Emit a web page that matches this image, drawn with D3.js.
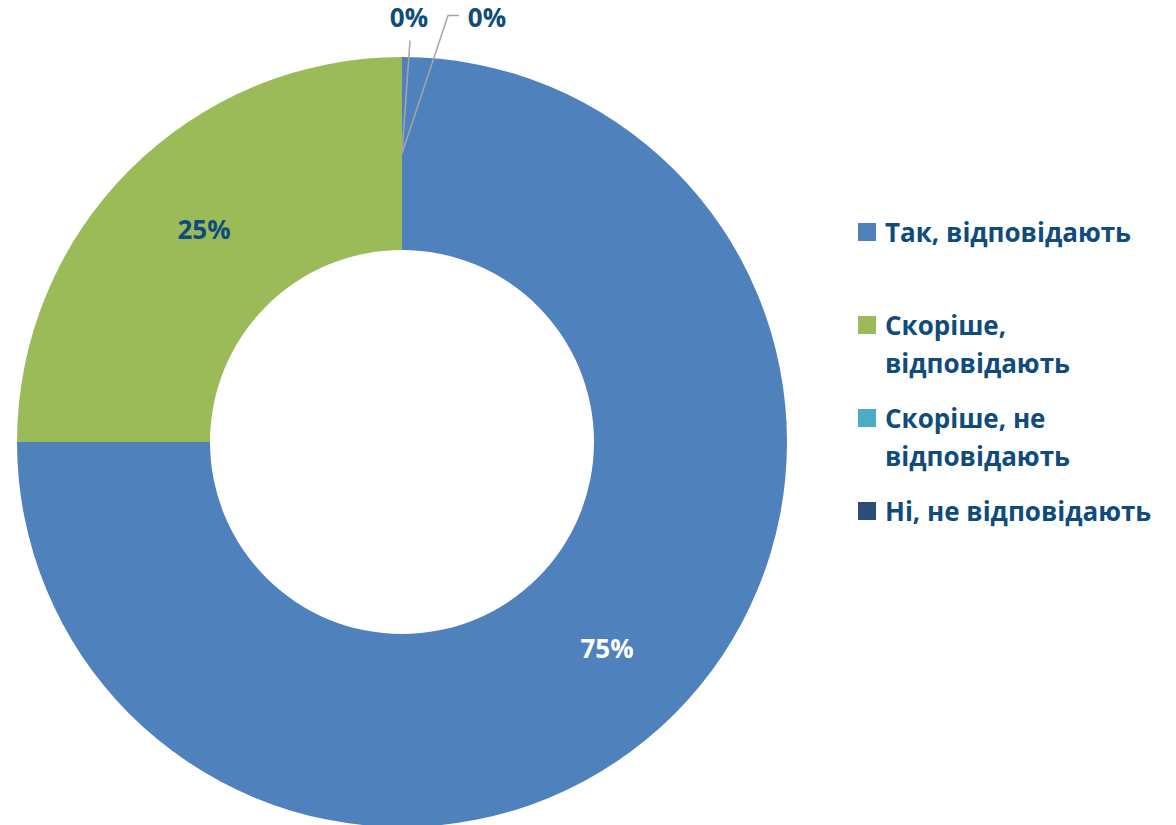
<!DOCTYPE html>
<html>
<head>
<meta charset="utf-8">
<script src="https://cdn.jsdelivr.net/npm/d3@7"></script>
<style>
  body { margin: 0; background: #fff; }
  text { font-family: "Open Sans", "Noto Sans", sans-serif; font-weight: bold; }
</style>
</head>
<body>
<svg id="chart"></svg>
<script>
const categories = ["Так, відповідають", "Скоріше, відповідають", "Скоріше, не відповідають", "Ні, не відповідають"]
const values = [75, 25, 0, 0]
const colors = ["#4F81BD", "#9BBB59", "#4BACC6", "#2C4D75"]

const width = 1176, height = 825
const cx = 402, cy = 442,
      outerR = 385, innerR = 192,
      textColor = "#0F4C7C"

const svg = d3.select("#chart")
    .attr("width", width)
    .attr("height", height)

const pie = d3.pie().sort(null).value(d => d.value)
const arcs = pie(categories.map((c, i) => ({name: c, value: values[i], color: colors[i]})))

const arc = d3.arc().innerRadius(innerR).outerRadius(outerR)
const labelArc = d3.arc().innerRadius((innerR + outerR) / 2).outerRadius((innerR + outerR) / 2)

const body = svg.append("g")
    .attr("transform", `translate(${cx},${cy})`)

body.selectAll("path")
    .data(arcs)
    .enter().append("path")
    .attr("d", arc)
    .attr("fill", d => d.data.color)

const total = d3.sum(values)
const fmt = d => Math.round(d.value / total * 100) + "%"

// labels for the visible slices sit on the ring
body.selectAll("text.inside")
    .data(arcs.filter(d => d.value > 0))
    .enter().append("text")
    .attr("class", "inside")
    .attr("x", d => labelArc.centroid(d)[0] + (d.index === 1 ? 6 : 1))
    .attr("y", d => labelArc.centroid(d)[1] + (d.index === 1 ? -9 : 2))
    .attr("text-anchor", "middle")
    .attr("dominant-baseline", "central")
    .attr("font-size", "26px")
    .attr("fill", d => d.index === 0 ? "#fff" : textColor)
    .text(fmt)

// zero slices get pulled-out labels with leader lines
const zeros = arcs.filter(d => d.value === 0)
const offsets = [{dx: 7, dy: -137, bend: null}, {dx: 85, dy: -137, bend: [46, -138]}]

zeros.forEach((d, k) => {
    const c = labelArc.centroid(d), o = offsets[k]
    const pts = k === 0
        ? [[c[0], c[1]], [c[0] + 8, c[1] - 113]]
        : [[c[0], c[1]], [c[0] + o.bend[0], c[1] + o.bend[1]], [c[0] + o.bend[0] + 11, c[1] + o.bend[1]]]
    body.append("path")
        .attr("d", d3.line()(pts))
        .attr("fill", "none")
        .attr("stroke", "#A6A6A6")
        .attr("stroke-width", 1.5)
    body.append("text")
        .attr("x", c[0] + o.dx)
        .attr("y", c[1] + o.dy)
        .attr("text-anchor", "middle")
        .attr("dominant-baseline", "central")
        .attr("font-size", "26px")
        .attr("fill", textColor)
        .text(fmt(d))
})

// legend
const legend = svg.append("g")
    .attr("transform", "translate(858,232)")

const rows = legend.selectAll("g")
    .data(arcs)
    .enter().append("g")
    .attr("transform", (d, i) => `translate(0,${i * 93})`)

rows.append("rect")
    .attr("x", 0)
    .attr("y", -9)
    .attr("width", 18)
    .attr("height", 18)
    .attr("fill", d => d.data.color)

rows.append("text")
    .attr("x", 27)
    .attr("y", 0)
    .attr("dominant-baseline", "central")
    .attr("font-size", "26px")
    .attr("fill", textColor)
    .text(d => d.data.name)
    .call(wrap, 285)

function wrap(text, maxWidth) {
    text.each(function() {
        const text = d3.select(this),
              words = text.text().split(/\s+/).reverse(),
              x = text.attr("x"),
              lineHeight = 38
        let word, line = [], lineNumber = 0,
            tspan = text.text(null).append("tspan").attr("x", x).attr("dy", 0)
        while (word = words.pop()) {
            line.push(word)
            tspan.text(line.join(" "))
            if (tspan.node().getComputedTextLength() > maxWidth && line.length > 1) {
                line.pop()
                tspan.text(line.join(" "))
                line = [word]
                lineNumber++
                tspan = text.append("tspan").attr("x", x).attr("dy", lineHeight).text(word)
            }
        }
    })
}
</script>
</body>
</html>
